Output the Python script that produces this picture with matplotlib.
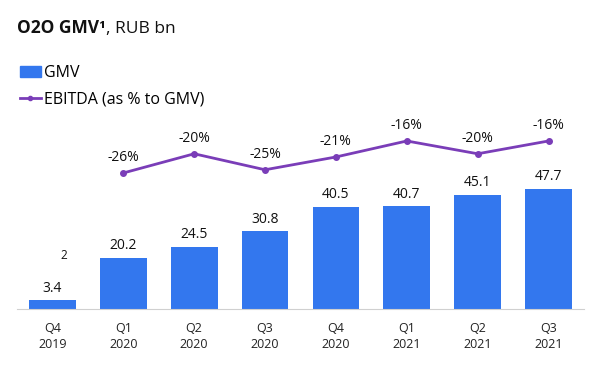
import numpy as np
import matplotlib
matplotlib.use("Agg")
import matplotlib.pyplot as plt
from matplotlib.lines import Line2D
from matplotlib.patches import Patch

#--------config begin--------
quarters = ["Q4\n2019", "Q1\n2020", "Q2\n2020", "Q3\n2020", "Q4\n2020", "Q1\n2021", "Q2\n2021", "Q3\n2021"]
gmv = [3.4, 20.2, 24.5, 30.8, 40.5, 40.7, 45.1, 47.7]
ebitda_idx = [1, 2, 3, 4, 5, 6, 7]
ebitda_pct = [-26, -20, -25, -21, -16, -20, -16]
bar_color = "#3377EE"
line_color = "#7A3DB8"
#--------config end--------

plt.rcParams["font.family"] = ["Open Sans", "DejaVu Sans"]

fig = plt.figure(figsize=(5.9, 3.66), dpi=100)
W, H = 590, 366
# axes in pixel terms: left 17, right 584, top 60, baseline 309
ax = fig.add_axes([17 / W, (H - 309) / H, (584 - 17) / W, (309 - 60) / H])
x = np.arange(len(quarters))
ax.bar(x, gmv, width=0.66, color=bar_color, zorder=2)
ax.set_xlim(-0.5, 7.5)
ax.set_ylim(0, 249 / 2.52)
for xi, v in zip(x, gmv):
  ax.annotate("%.1f" % v, (xi, v), xytext=(0, 3.5), textcoords="offset points",
              ha="center", va="bottom", fontsize=10, color="#111111")
# footnote marker next to first bar
ax.text(0.16, 21.4, "2", ha="center", va="center", fontsize=8.5, color="#111111")

ax.set_xticks(x)
ax.set_xticklabels(quarters, fontsize=9, color="#222222", linespacing=1.35)
ax.tick_params(axis="x", length=0, pad=9)
ax.set_yticks([])
for s in ["top", "left", "right"]:
  ax.spines[s].set_visible(False)
ax.spines["bottom"].set_color("#D0D0D0")
ax.spines["bottom"].set_linewidth(0.8)

ax2 = ax.twinx()
ax2.set_ylim(-68.5, 9.3)
ax2.plot(ebitda_idx, ebitda_pct, color=line_color, lw=2, marker="o", ms=4, zorder=3)
for xi, v in zip(ebitda_idx, ebitda_pct):
  ax2.annotate("%d%%" % v, (xi, v), xytext=(0, 5.5), textcoords="offset points",
               ha="center", va="bottom", fontsize=10, color="#111111")
ax2.set_yticks([])
for s in ax2.spines.values():
  s.set_visible(False)

# title
t1 = fig.text(17 / W, 1 - 28 / H, "O2O GMV\u00b9", fontsize=12.5, fontweight="bold",
              va="center", ha="left", color="#111111")
fig.canvas.draw()
ax.annotate(", RUB bn", xy=(1, 0), xycoords=t1, va="bottom", ha="left",
            fontsize=12.5, color="#111111", annotation_clip=False)

handles = [Patch(color=bar_color),
           Line2D([0], [0], color=line_color, lw=2, marker="o", ms=3)]
fig.legend(handles, ["GMV", "EBITDA (as % to GMV)"], loc="upper left",
           bbox_to_anchor=(20 / W, 1 - 65 / H), frameon=False, fontsize=11.5,
           handlelength=1.3, handleheight=0.7, handletextpad=0.2, labelspacing=0.65,
           borderpad=0, borderaxespad=0, numpoints=1)

plt.savefig("out.png", dpi=100)
